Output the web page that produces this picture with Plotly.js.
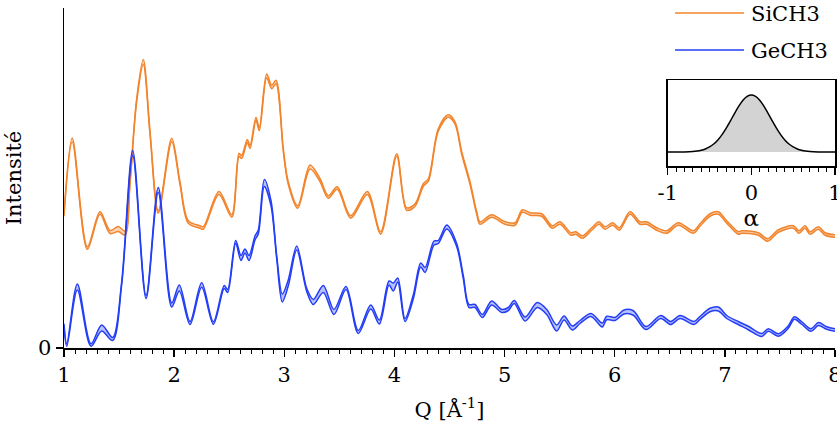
<!DOCTYPE html>
<html>
<head>
<meta charset="utf-8">
<script src="https://cdn.plot.ly/plotly-3.0.1.min.js"></script>
<style>html,body{margin:0;padding:0;background:#fff;}#chart{width:837px;height:425px;}</style>
</head>
<body>
<div id="chart"></div>
<script>
// ---- data ----
const qSi = [1.000,1.075,1.212,1.327,1.418,1.493,1.554,1.599,1.660,1.720,
  1.781,1.856,1.978,2.053,2.129,2.235,2.265,2.407,2.523,2.589,
  2.613,2.664,2.689,2.743,2.773,2.840,2.886,2.925,2.991,3.036,
  3.122,3.234,3.324,3.400,3.481,3.603,3.754,3.875,4.021,4.111,
  4.187,4.262,4.308,4.398,4.489,4.550,4.611,4.686,4.747,4.777,
  4.883,5.004,5.095,5.161,5.231,5.337,5.433,5.503,5.603,5.646,
  5.706,5.791,5.857,5.912,5.982,6.042,6.139,6.230,6.290,6.381,
  6.472,6.577,6.714,6.774,6.865,6.941,7.017,7.122,7.153,7.304,
  7.389,7.485,7.622,7.673,7.728,7.773,7.849,7.910,8.000];
const iSi = [1.33,2.08,1.00,1.35,1.16,1.19,1.15,1.65,2.48,2.86,
  2.15,1.36,2.08,1.65,1.26,1.21,1.20,1.55,1.32,1.93,
  1.91,2.07,2.01,2.29,2.19,2.72,2.61,2.66,1.98,1.65,
  1.41,1.81,1.68,1.51,1.60,1.31,1.55,1.15,1.93,1.39,
  1.43,1.63,1.68,2.18,2.32,2.25,1.95,1.65,1.35,1.25,
  1.32,1.25,1.24,1.37,1.34,1.33,1.21,1.25,1.14,1.15,
  1.11,1.19,1.25,1.20,1.24,1.19,1.35,1.25,1.25,1.19,
  1.16,1.24,1.16,1.23,1.33,1.35,1.26,1.15,1.16,1.14,
  1.08,1.17,1.21,1.16,1.21,1.15,1.20,1.14,1.12];
const wSi = [0.025,0.04,0.025,0.025,0.03,0.05,0.04,0.025,0.03,0.05,
  0.03,0.025,0.035,0.025,0.025,0.025,0.025,0.03,0.025,0.03,
  0.03,0.03,0.03,0.03,0.03,0.04,0.035,0.035,0.025,0.025,
  0.025,0.04,0.03,0.025,0.025,0.025,0.03,0.025,0.025,0.025,
  0.025,0.025,0.025,0.025,0.025,0.025,0.025,0.025,0.025,0.025,
  0.025,0.025,0.025,0.025,0.025,0.025,0.025,0.025,0.025,0.025,
  0.025,0.025,0.025,0.025,0.025,0.025,0.025,0.025,0.025,0.025,
  0.025,0.025,0.025,0.025,0.025,0.025,0.025,0.025,0.025,0.025,
  0.025,0.025,0.025,0.025,0.025,0.025,0.025,0.025,0.025];

const qGe = [1.000,1.025,1.121,1.245,1.342,1.442,1.524,1.624,1.745,1.856,
  1.978,2.047,2.144,2.250,2.356,2.455,2.486,2.559,2.607,2.643,
  2.680,2.734,2.764,2.819,2.879,2.931,2.982,3.036,3.113,3.204,
  3.264,3.354,3.451,3.560,3.672,3.785,3.863,3.951,3.990,4.030,
  4.096,4.171,4.239,4.278,4.359,4.398,4.475,4.565,4.625,4.677,
  4.732,4.798,4.883,4.974,5.034,5.088,5.186,5.297,5.383,5.473,
  5.540,5.615,5.685,5.785,5.887,5.927,6.003,6.084,6.169,6.284,
  6.418,6.508,6.593,6.720,6.774,6.865,6.941,7.017,7.122,7.213,
  7.335,7.395,7.485,7.576,7.631,7.698,7.782,7.849,7.925,8.000];
const iGe = [0.23,0.03,0.61,0.03,0.20,0.09,0.65,1.95,0.51,1.58,
  0.43,0.60,0.25,0.63,0.25,0.61,0.57,1.06,0.90,0.97,
  0.90,1.10,1.16,1.65,1.45,0.91,0.50,0.65,1.00,0.58,
  0.46,0.59,0.36,0.60,0.16,0.41,0.26,0.65,0.61,0.68,
  0.28,0.51,0.83,0.78,1.05,1.06,1.21,1.03,0.71,0.42,
  0.42,0.32,0.45,0.37,0.39,0.46,0.29,0.43,0.36,0.20,
  0.30,0.20,0.26,0.33,0.23,0.30,0.29,0.36,0.35,0.20,
  0.31,0.25,0.31,0.25,0.30,0.38,0.39,0.31,0.25,0.20,
  0.13,0.18,0.13,0.21,0.30,0.25,0.18,0.24,0.20,0.18];
const wGe = [0.025,0.025,0.06,0.025,0.06,0.03,0.03,0.05,0.03,0.05,
  0.04,0.06,0.03,0.045,0.025,0.03,0.03,0.03,0.05,0.04,
  0.05,0.04,0.04,0.07,0.05,0.03,0.08,0.06,0.04,0.03,
  0.05,0.07,0.05,0.03,0.03,0.04,0.04,0.04,0.08,0.04,
  0.03,0.04,0.04,0.05,0.04,0.03,0.04,0.03,0.03,0.03,
  0.03,0.03,0.04,0.03,0.03,0.03,0.04,0.05,0.05,0.06,
  0.04,0.04,0.03,0.03,0.04,0.035,0.03,0.04,0.045,0.03,
  0.03,0.03,0.03,0.03,0.03,0.035,0.04,0.03,0.03,0.035,
  0.03,0.025,0.025,0.025,0.025,0.025,0.025,0.03,0.025,0.025];

const alpha = [-1.0,-0.9,-0.8,-0.7,-0.65,-0.6,-0.55,-0.5,-0.45,-0.4,-0.35,-0.3,-0.25,-0.2,-0.15,-0.1,-0.05,
  0.0,0.05,0.1,0.15,0.2,0.25,0.3,0.35,0.4,0.45,0.5,0.55,0.6,0.65,0.7,0.8,0.9,1.0];
const pAlpha = [0.0,0.0,0.002,0.009,0.017,0.031,0.054,0.09,0.142,0.214,0.307,0.42,0.547,0.68,0.805,0.908,0.976,
  1.0,0.976,0.908,0.805,0.68,0.547,0.42,0.307,0.214,0.142,0.09,0.054,0.031,0.017,0.009,0.002,0.0,0.0];

const seriesNames = ['SiCH3','GeCH3'];
const xTickVals = [1,2,3,4,5,6,7,8];
const yTickVals = [0];
const insetTickVals = [-1,0,1];

// ---- styles ----
const ORANGE = 'rgb(242,132,44)';
const ORANGE_FILL = 'rgba(242,132,44,0.35)';
const BLUE = 'rgb(36,62,246)';
const BLUE_FILL = 'rgba(36,62,246,0.32)';
const FONT = 'DejaVu Serif, Liberation Serif, serif';
const FS = 21;

function band(q, v, w, color, fill) {
  const lo = v.map((y, i) => y - w[i] / 2);
  const hi = v.map((y, i) => y + w[i] / 2);
  return [
    {x: q, y: lo, type: 'scatter', mode: 'lines', line: {color: color, width: 1.5, shape: 'spline', smoothing: 0.9}, showlegend: false, hoverinfo: 'skip'},
    {x: q, y: hi, type: 'scatter', mode: 'lines', fill: 'tonexty', fillcolor: fill, line: {color: color, width: 1.5, shape: 'spline', smoothing: 0.9}, showlegend: false, hoverinfo: 'skip'}
  ];
}

const traces = [].concat(
  band(qSi, iSi, wSi, ORANGE, ORANGE_FILL),
  band(qGe, iGe, wGe, BLUE, BLUE_FILL),
  [{x: alpha, y: pAlpha, xaxis: 'x2', yaxis: 'y2', type: 'scatter', mode: 'lines', fill: 'tozeroy', fillcolor: '#d3d3d3',
    line: {color: 'black', width: 1.5, shape: 'spline', smoothing: 0.6}, showlegend: false, hoverinfo: 'skip'}]
);

const W = 771, H = 340; // plot area size
const px = v => (v - 64) / W;
const py = v => (348 - v) / H;

const layout = {
  width: 837, height: 425,
  margin: {l: 64, r: 2, t: 8, b: 77},
  paper_bgcolor: 'white', plot_bgcolor: 'white',
  font: {family: FONT, size: FS, color: 'black'},
  showlegend: false,
  xaxis: {
    range: [1, 8], tickvals: xTickVals, ticks: 'outside', ticklen: 7, tickwidth: 1.5, tickcolor: 'black',
    minor: {dtick: 0.1, tick0: 1, ticks: 'outside', ticklen: 4, tickwidth: 1, tickcolor: 'black', showgrid: false},
    showline: true, linewidth: 1.5, linecolor: 'black', showgrid: false, zeroline: false,
    tickfont: {family: FONT, size: FS}, automargin: false, ticklabeloverflow: 'allow',
    title: {text: 'Q [Å<sup>-1</sup>]', font: {family: FONT, size: FS}, standoff: 16}
  },
  yaxis: {
    range: [0, 3.4], tickvals: yTickVals, ticktext: ['0'], ticks: 'outside', ticklen: 7, tickwidth: 1.5, tickcolor: 'black',
    showline: true, linewidth: 1.5, linecolor: 'black', showgrid: false, zeroline: false,
    tickfont: {family: FONT, size: FS}, automargin: false,
    title: {text: 'Intensité', font: {family: FONT, size: FS}, standoff: 10}
  },
  xaxis2: {
    anchor: 'y2', domain: [0.783, 1.0], range: [-1, 1], tickvals: insetTickVals, ticktext: ['-1','0','1'],
    ticks: 'outside', ticklen: 7, tickwidth: 1.5, tickcolor: 'black',
    minor: {dtick: 0.1, tick0: -1, ticks: 'outside', ticklen: 4, tickwidth: 1, tickcolor: 'black', showgrid: false},
    showline: true, mirror: true, linewidth: 1.5, linecolor: 'black', showgrid: false, zeroline: false,
    tickfont: {family: FONT, size: FS}, automargin: false, ticklabeloverflow: 'allow',
    title: {text: 'α', font: {family: FONT, size: 23}, standoff: 0}
  },
  yaxis2: {
    anchor: 'x2', domain: [0.535, 0.788], range: [-0.246, 1.263],
    showline: true, mirror: true, linewidth: 1.5, linecolor: 'black', showgrid: false, zeroline: false,
    showticklabels: false, ticks: '', automargin: false
  },
  shapes: [
    {type: 'line', xref: 'paper', yref: 'paper', x0: px(675), x1: px(744), y0: py(13), y1: py(13), line: {color: ORANGE, width: 1.5}},
    {type: 'line', xref: 'paper', yref: 'paper', x0: px(675), x1: px(744), y0: py(50), y1: py(50), line: {color: BLUE, width: 1.5}}
  ],
  annotations: [
    {xref: 'paper', yref: 'paper', x: px(749), y: py(14), xanchor: 'left', yanchor: 'middle', text: seriesNames[0], showarrow: false, font: {family: FONT, size: FS}},
    {xref: 'paper', yref: 'paper', x: px(749), y: py(51), xanchor: 'left', yanchor: 'middle', text: seriesNames[1], showarrow: false, font: {family: FONT, size: FS}}
  ]
};

Plotly.newPlot('chart', traces, layout, {displayModeBar: false, staticPlot: true});
</script>
</body>
</html>
